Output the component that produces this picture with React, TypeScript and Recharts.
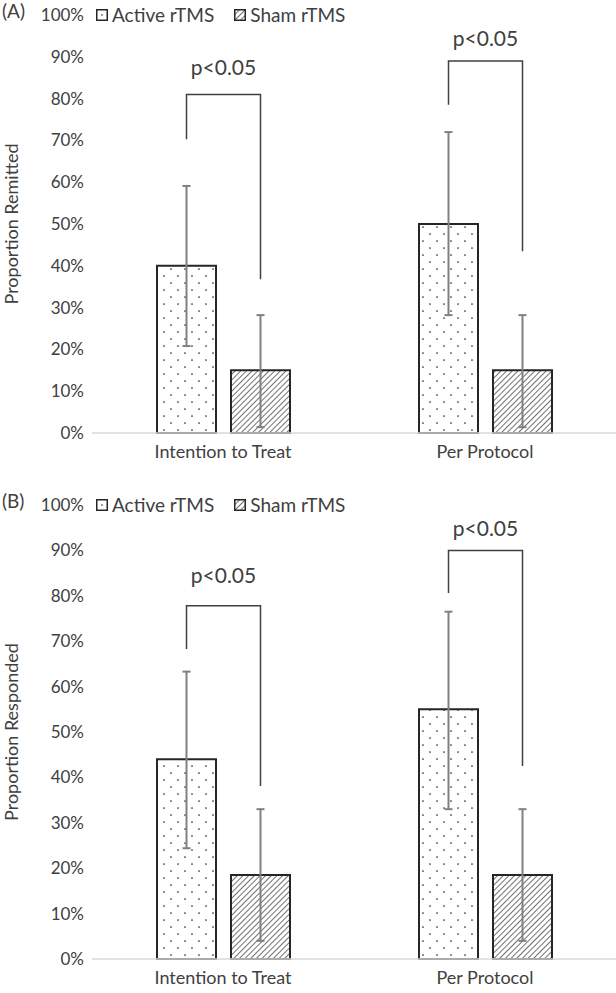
import { ComposedChart, Bar, XAxis, YAxis, Legend, ErrorBar } from 'recharts';

const categories = ['Intention to Treat', 'Per Protocol'];

// Panel A - remission
const remitActive = [40, 50];
const remitSham = [15, 15];
const remitActiveLow = [20.8, 28.2];
const remitActiveHigh = [59.1, 72];
const remitShamLow = [1.4, 1.4];
const remitShamHigh = [28.2, 28.2];
const remitBracketTop = [81, 89];
const remitBracketLeft = [70.3, 78.5];
const remitBracketRight = [36.8, 43.5];
const remitPLabel = [87.6, 94.7];

// Panel B - response
const respActive = [44, 55];
const respSham = [18.5, 18.5];
const respActiveLow = [24.4, 33];
const respActiveHigh = [63.3, 76.5];
const respShamLow = [4, 4];
const respShamHigh = [33, 33];
const respBracketTop = [77.8, 90];
const respBracketLeft = [68.3, 80.6];
const respBracketRight = [38.1, 42.5];
const respPLabel = [84.6, 95];

const yTicks = [0, 10, 20, 30, 40, 50, 60, 70, 80, 90, 100];
const pText = 'p<0.05';

const FONT = 'Lato, "Open Sans", sans-serif';
const BAR_SIZE = 59;
const BAR_GAP = 15;

function buildRows(
  active: number[], sham: number[],
  aLow: number[], aHigh: number[], sLow: number[], sHigh: number[]
) {
  return categories.map((name, i) => ({
    name,
    active: active[i],
    sham: sham[i],
    activeErr: [active[i] - aLow[i], aHigh[i] - active[i]],
    shamErr: [sham[i] - sLow[i], sHigh[i] - sham[i]],
  }));
}

const makeBracket = (top: number[], leftEnd: number[], rightEnd: number[], pLevel: number[], values: number[]) =>
  (props: any) => {
    const { x, y, width, height, index } = props;
    const v = values[index];
    const base = y + height;
    const k = height / v;
    const toY = (val: number) => base - val * k;
    const lx = x + width / 2;
    const rx = lx + width + BAR_GAP;
    return (
      <g>
        <path
          d={`M${lx},${toY(leftEnd[index])} L${lx},${toY(top[index])} L${rx},${toY(top[index])} L${rx},${toY(rightEnd[index])}`}
          fill="none"
          stroke="#404040"
          strokeWidth={1.5}
        />
        <text
          x={(lx + rx) / 2}
          y={toY(pLevel[index])}
          textAnchor="middle"
          dominantBaseline="central"
          fontSize={21}
          fontFamily={FONT}
          fill="#404040"
        >
          {pText}
        </text>
      </g>
    );
  };

const LegendContent = () => (
  <div style={{ display: 'flex', alignItems: 'center', fontFamily: FONT, fontSize: 19, color: '#404040' }}>
    <svg width={12} height={12} style={{ marginRight: 4 }}>
      <rect x={0.75} y={0.75} width={10.5} height={10.5} fill="url(#dotsL)" stroke="#262626" strokeWidth={1.5} />
      <defs>
        <pattern id="dotsL" width={12} height={12} patternUnits="userSpaceOnUse">
          <rect width={12} height={12} fill="#fff" />
          <circle cx={6} cy={6} r={0.8} fill="#262626" />
        </pattern>
      </defs>
    </svg>
    <span style={{ marginRight: 20 }}>Active rTMS</span>
    <svg width={12} height={12} style={{ marginRight: 4 }}>
      <rect x={0.75} y={0.75} width={10.5} height={10.5} fill="url(#hatch)" stroke="#262626" strokeWidth={1.5} />
    </svg>
    <span>Sham rTMS</span>
  </div>
);

function Panel({
  tag, title, rows, top, leftEnd, rightEnd, pLevel, values, height, xAxisHeight,
}: any) {
  return (
    <div style={{ position: 'relative', width: 616, height }}>
      <div style={{ position: 'absolute', left: 2, top: 0, lineHeight: '22px', fontFamily: FONT, fontSize: 19, color: '#404040' }}>
        {tag}
      </div>
      <ComposedChart
        width={616}
        height={height}
        data={rows}
        margin={{ top: 15, right: 0, bottom: 0, left: 0 }}
        barSize={BAR_SIZE}
        barGap={BAR_GAP}
      >
        <defs>
          <pattern id="dots" width={14} height={14} patternUnits="userSpaceOnUse">
            <rect width={14} height={14} fill="#fff" />
            <circle cx={3} cy={3} r={0.85} fill="#262626" />
            <circle cx={10} cy={10} r={0.85} fill="#262626" />
          </pattern>
          <pattern id="hatch" width={4} height={4} patternUnits="userSpaceOnUse" patternTransform="rotate(45)">
            <rect width={4} height={4} fill="#fff" />
            <line x1={0} y1={0} x2={0} y2={4} stroke="#333" strokeWidth={1.4} />
          </pattern>
        </defs>
        <XAxis
          dataKey="name"
          height={xAxisHeight}
          tickLine={false}
          axisLine={{ stroke: '#d9d9d9', strokeWidth: 1.5 }}
          tickMargin={6}
          tick={{ fontFamily: FONT, fontSize: 18, fill: '#404040' }}
        />
        <YAxis
          width={92}
          domain={[0, 100]}
          ticks={yTicks}
          interval={0}
          axisLine={false}
          tickLine={false}
          tickSize={0}
          tickMargin={8}
          tickFormatter={(v: number) => `${v}%`}
          tick={{ fontFamily: FONT, fontSize: 17, fill: '#404040' }}
          label={{
            value: title,
            angle: -90,
            position: 'insideLeft',
            offset: 12,
            style: { textAnchor: 'middle', fontFamily: FONT, fontSize: 18, fill: '#404040' },
          }}
        />
        <Legend
          content={<LegendContent />}
          layout="horizontal"
          verticalAlign="middle"
          align="center"
          wrapperStyle={{ position: 'absolute', top: 3, left: 96, width: 'auto' }}
        />
        <Bar
          dataKey="active"
          fill="url(#dots)"
          stroke="#262626"
          strokeWidth={2}
          isAnimationActive={false}
          label={makeBracket(top, leftEnd, rightEnd, pLevel, values)}
        >
          <ErrorBar dataKey="activeErr" width={4} stroke="#808080" strokeWidth={2} direction="y" />
        </Bar>
        <Bar dataKey="sham" fill="url(#hatch)" stroke="#262626" strokeWidth={2} isAnimationActive={false}>
          <ErrorBar dataKey="shamErr" width={4} stroke="#808080" strokeWidth={2} direction="y" />
        </Bar>
      </ComposedChart>
    </div>
  );
}

export default function App() {
  const remitRows = buildRows(remitActive, remitSham, remitActiveLow, remitActiveHigh, remitShamLow, remitShamHigh);
  const respRows = buildRows(respActive, respSham, respActiveLow, respActiveHigh, respShamLow, respShamHigh);
  return (
    <div style={{ position: 'absolute', left: 0, top: 0, width: 616, height: 993, background: '#fff' }}>
      <Panel
        tag="(A)"
        title="Proportion Remitted"
        rows={remitRows}
        top={remitBracketTop}
        leftEnd={remitBracketLeft}
        rightEnd={remitBracketRight}
        pLevel={remitPLabel}
        values={remitActive}
        height={490}
        xAxisHeight={57}
      />
      <Panel
        tag="(B)"
        title="Proportion Responded"
        rows={respRows}
        top={respBracketTop}
        leftEnd={respBracketLeft}
        rightEnd={respBracketRight}
        pLevel={respPLabel}
        values={respActive}
        height={503}
        xAxisHeight={34}
      />
    </div>
  );
}
